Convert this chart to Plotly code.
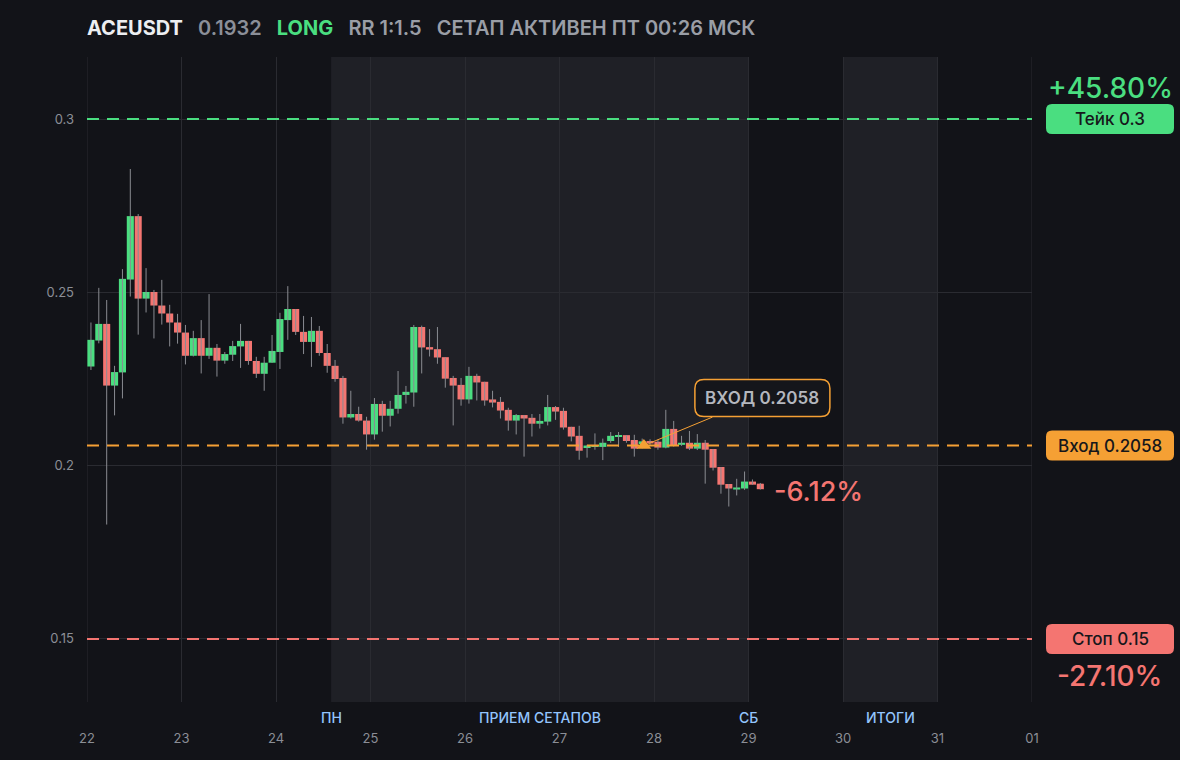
import plotly.graph_objects as go
import pandas as pd

# ---------------- data ----------------
symbol = "ACEUSDT"
last_price_text = "0.1932"
side = "LONG"
rr_text = "RR 1:1.5"
status_text = "СЕТАП АКТИВЕН ПТ 00:26 МСК"

start_time = "2025-03-22 01:00"
candle_hours = 2

opens = [0.2286, 0.2361, 0.2409, 0.2231, 0.2269, 0.2537, 0.2720, 0.2482, 0.2501, 0.2462,
         0.2439, 0.2413, 0.2384, 0.2317, 0.2368, 0.2317, 0.2340, 0.2303, 0.2320, 0.2344,
         0.2360, 0.2302, 0.2265, 0.2297, 0.2328, 0.2420, 0.2452, 0.2386, 0.2357, 0.2389,
         0.2325, 0.2288, 0.2253, 0.2139, 0.2149, 0.2130, 0.2090, 0.2178, 0.2144, 0.2164,
         0.2204, 0.2211, 0.2400, 0.2342, 0.2336, 0.2313, 0.2253, 0.2233, 0.2191, 0.2259,
         0.2242, 0.2191, 0.2184, 0.2161, 0.2130, 0.2146, 0.2138, 0.2121, 0.2127, 0.2169,
         0.2158, 0.2112, 0.2086, 0.2053, 0.2054, 0.2054, 0.2071, 0.2083, 0.2088, 0.2074,
         0.2062, 0.2071, 0.2069, 0.2052, 0.2106, 0.2060, 0.2066, 0.2049, 0.2066, 0.2048,
         0.1996, 0.1947, 0.1931, 0.1934, 0.1954, 0.1948]
highs = [0.2413, 0.2513, 0.2478, 0.2288, 0.2567, 0.2856, 0.2726, 0.2570, 0.2507, 0.2536,
         0.2464, 0.2438, 0.2406, 0.2389, 0.2420, 0.2495, 0.2351, 0.2328, 0.2360, 0.2409,
         0.2360, 0.2314, 0.2314, 0.2377, 0.2441, 0.2518, 0.2452, 0.2432, 0.2429, 0.2403,
         0.2351, 0.2305, 0.2259, 0.2216, 0.2170, 0.2141, 0.2195, 0.2187, 0.2187, 0.2273,
         0.2230, 0.2406, 0.2404, 0.2394, 0.2400, 0.2313, 0.2259, 0.2253, 0.2285, 0.2265,
         0.2242, 0.2216, 0.2198, 0.2167, 0.2149, 0.2146, 0.2149, 0.2149, 0.2204, 0.2172,
         0.2167, 0.2112, 0.2115, 0.2060, 0.2093, 0.2078, 0.2097, 0.2097, 0.2088, 0.2089,
         0.2078, 0.2076, 0.2075, 0.2161, 0.2129, 0.2086, 0.2100, 0.2091, 0.2074, 0.2048,
         0.1996, 0.1947, 0.1962, 0.1983, 0.1960, 0.1950]
lows = [0.2276, 0.2353, 0.1830, 0.2145, 0.2194, 0.2488, 0.2378, 0.2442, 0.2367, 0.2407,
        0.2344, 0.2352, 0.2292, 0.2315, 0.2266, 0.2308, 0.2257, 0.2294, 0.2302, 0.2282,
        0.2291, 0.2253, 0.2216, 0.2297, 0.2279, 0.2363, 0.2377, 0.2322, 0.2285, 0.2317,
        0.2268, 0.2242, 0.2121, 0.2136, 0.2127, 0.2046, 0.2075, 0.2098, 0.2113, 0.2150,
        0.2179, 0.2170, 0.2266, 0.2315, 0.2294, 0.2225, 0.2116, 0.2173, 0.2179, 0.2188,
        0.2173, 0.2168, 0.2136, 0.2101, 0.2090, 0.2026, 0.2084, 0.2107, 0.2116, 0.2132,
        0.2104, 0.2070, 0.2017, 0.2023, 0.2046, 0.2016, 0.2066, 0.2054, 0.2066, 0.2026,
        0.2050, 0.2060, 0.2046, 0.2050, 0.2055, 0.2057, 0.2045, 0.2045, 0.1948, 0.1986,
        0.1919, 0.1882, 0.1914, 0.1930, 0.1945, 0.1931]
closes = [0.2363, 0.2409, 0.2231, 0.2270, 0.2539, 0.2720, 0.2482, 0.2501, 0.2462, 0.2439,
          0.2413, 0.2384, 0.2317, 0.2368, 0.2317, 0.2340, 0.2303, 0.2322, 0.2345, 0.2360,
          0.2302, 0.2265, 0.2297, 0.2331, 0.2423, 0.2452, 0.2386, 0.2357, 0.2389, 0.2325,
          0.2288, 0.2250, 0.2139, 0.2149, 0.2130, 0.2090, 0.2178, 0.2144, 0.2164, 0.2204,
          0.2213, 0.2400, 0.2341, 0.2335, 0.2312, 0.2251, 0.2231, 0.2191, 0.2259, 0.2240,
          0.2188, 0.2182, 0.2159, 0.2130, 0.2146, 0.2136, 0.2121, 0.2129, 0.2169, 0.2156,
          0.2110, 0.2084, 0.2043, 0.2058, 0.2058, 0.2066, 0.2086, 0.2088, 0.2071, 0.2049,
          0.2070, 0.2064, 0.2052, 0.2106, 0.2058, 0.2066, 0.2049, 0.2066, 0.2046, 0.1994,
          0.1945, 0.1934, 0.1937, 0.1954, 0.1945, 0.1932]

take_price = 0.3
entry_price = 0.2058
stop_price = 0.15
entry_time = "2025-03-27 21:26"
take_label = "Тейк 0.3"
entry_label = "Вход 0.2058"
stop_label = "Стоп 0.15"
take_pct = "+45.80%"
stop_pct = "-27.10%"
current_pct = "-6.12%"
entry_callout = "ВХОД 0.2058"

phases = [("2025-03-24 14:00", "2025-03-29 00:00"), ("2025-03-30 00:00", "2025-03-31 00:00")]
phase_labels = [("2025-03-24 14:00", "ПН"), ("2025-03-26 19:00", "ПРИЕМ СЕТАПОВ"),
                ("2025-03-29 00:00", "СБ"), ("2025-03-30 12:00", "ИТОГИ")]

# ---------------- style ----------------
W, H = 1180, 760
L, R, T, B = 87, 148, 57, 58
PW, PH = W - L - R, H - T - B
XMIN, XMAX = pd.Timestamp("2025-03-22 00:00"), pd.Timestamp("2025-04-01 00:00")
YMIN, YMAX = 0.13179, 0.31792

BG = "#121318"
PHASE_BG = "#1f2026"
GRID = "#2a2b31"
GREEN = "#4ADE80"
RED = "#F47571"
ORANGE = "#F5A034"
WICK = "#8a8c92"
TICK = "#8b8e96"
BLUE = "#93C5FD"
FONT = "Inter"

times = pd.date_range(start_time, periods=len(opens), freq=f"{candle_hours}h")


def t2px(t):
    t = pd.Timestamp(t)
    return L + (t - XMIN) / (XMAX - XMIN) * PW


def v2py(v):
    return T + (YMAX - v) / (YMAX - YMIN) * PH


def px2paper_x(px):
    return (px - L) / PW


def py2paper_y(py):
    return (T + PH - py) / PH


def rounded_rect(x0, y0, x1, y1, r):
    """x/y in pixels (y down) -> path in paper coordinates"""
    X = px2paper_x
    Y = py2paper_y
    return (f"M {X(x0 + r)},{Y(y0)} L {X(x1 - r)},{Y(y0)} Q {X(x1)},{Y(y0)} {X(x1)},{Y(y0 + r)} "
            f"L {X(x1)},{Y(y1 - r)} Q {X(x1)},{Y(y1)} {X(x1 - r)},{Y(y1)} "
            f"L {X(x0 + r)},{Y(y1)} Q {X(x0)},{Y(y1)} {X(x0)},{Y(y1 - r)} "
            f"L {X(x0)},{Y(y0 + r)} Q {X(x0)},{Y(y0)} {X(x0 + r)},{Y(y0)} Z")


fig = go.Figure()

# wicks
wx, wy = [], []
for t, hi, lo in zip(times, highs, lows):
    wx += [t, t, None]
    wy += [lo, hi, None]
fig.add_trace(go.Scatter(x=wx, y=wy, mode="lines", line=dict(color=WICK, width=1),
                         hoverinfo="skip", showlegend=False))

# bodies
bases = [min(o, c) for o, c in zip(opens, closes)]
heights = [max(abs(c - o), 0.0004) for o, c in zip(opens, closes)]
colors = [GREEN if c >= o else RED for o, c in zip(opens, closes)]
fig.add_trace(go.Bar(x=times, y=heights, base=bases, marker=dict(color=colors, line=dict(width=0)),
                     width=1.8 * 3600 * 1000, showlegend=False, hoverinfo="skip"))

# entry marker
fig.add_trace(go.Scatter(x=[entry_time], y=[entry_price], mode="markers",
                         marker=dict(symbol="triangle-up", size=13, color=ORANGE),
                         showlegend=False, hoverinfo="skip"))

# phases
for a, b in phases:
    fig.add_vrect(x0=a, x1=b, fillcolor=PHASE_BG, line_width=0, layer="below")

# edge grid lines (range ends)
for xe in [XMIN, XMAX]:
    fig.add_shape(type="line", xref="x", x0=xe, x1=xe, yref="paper", y0=0, y1=1,
                  line=dict(color=GRID, width=1), layer="below")

# level lines
for lvl, col in [(take_price, GREEN), (entry_price, ORANGE), (stop_price, RED)]:
    fig.add_shape(type="line", xref="paper", x0=0, x1=1, yref="y", y0=lvl, y1=lvl,
                  line=dict(color=col, width=2, dash="12px,8px"), layer="above")

# right side labels
for lvl, col, txt in [(take_price, GREEN, take_label), (entry_price, ORANGE, entry_label),
                      (stop_price, RED, stop_label)]:
    cy = v2py(lvl)
    fig.add_shape(type="path", xref="paper", yref="paper",
                  path=rounded_rect(1046, cy - 15, 1174, cy + 15, 6),
                  fillcolor=col, line=dict(width=0))
    fig.add_annotation(xref="paper", yref="y", x=px2paper_x(1110), y=lvl, text=txt,
                       showarrow=False, font=dict(family=FONT, size=17, color="#16171b", weight=500),
                       xanchor="center", yanchor="middle")

fig.add_annotation(xref="paper", yref="y", x=px2paper_x(1110), y=take_price, yshift=31,
                   text=take_pct, showarrow=False, xanchor="center", yanchor="middle",
                   font=dict(family=FONT, size=28, color=GREEN, weight=500))
fig.add_annotation(xref="paper", yref="y", x=px2paper_x(1109), y=stop_price, yshift=-37,
                   text=stop_pct, showarrow=False, xanchor="center", yanchor="middle",
                   font=dict(family=FONT, size=28, color=RED, weight=500))

# current pct label
fig.add_annotation(x=times[-1], y=closes[-1], text=current_pct, showarrow=False,
                   xanchor="left", yanchor="middle", xshift=12, yshift=-2,
                   font=dict(family=FONT, size=27, color=RED, weight=500))

# entry callout
ex, ey = t2px(entry_time), v2py(entry_price)
bx0, by0, bx1, by1 = ex + 51, ey - 66, ex + 186, ey - 29
fig.add_shape(type="path", xref="paper", yref="paper",
              path=rounded_rect(bx0, by0, bx1, by1, 9),
              fillcolor="#15161b", line=dict(color=ORANGE, width=1.5))
fig.add_annotation(xref="paper", yref="paper", x=px2paper_x((bx0 + bx1) / 2),
                   y=py2paper_y((by0 + by1) / 2), text=entry_callout, showarrow=False,
                   xanchor="center", yanchor="middle",
                   font=dict(family=FONT, size=17, color="#b4b7be", weight=600))
fig.add_annotation(x=entry_time, y=entry_price, text="", showarrow=True, arrowhead=0,
                   arrowwidth=1, arrowcolor=ORANGE, ax=70, ay=-29, standoff=5)

# phase labels
for t, txt in phase_labels:
    fig.add_annotation(x=t, xref="x", yref="paper", y=0, yshift=-15, text=txt, showarrow=False,
                       xanchor="center", yanchor="middle",
                       font=dict(family=FONT, size=14, color=BLUE, weight=500))

title = (f"<b>{symbol}</b>&nbsp;&nbsp;&nbsp;<span style='color:#8b8f98'>{last_price_text}</span>"
         f"&nbsp;&nbsp;&nbsp;<span style='color:{GREEN}'><b>{side}</b></span>"
         f"&nbsp;&nbsp;&nbsp;<span style='color:#9a9ea6'>{rr_text}&nbsp;&nbsp;&nbsp;{status_text}</span>")

fig.update_layout(
    width=W, height=H,
    margin=dict(l=L, r=R, t=T, b=B),
    paper_bgcolor=BG, plot_bgcolor=BG,
    barmode="overlay",
    font=dict(family=FONT, color=TICK),
    title=dict(text=title, x=L / W, xanchor="left", y=1 - 28 / H, yanchor="middle",
               xref="container", yref="container",
               font=dict(family=FONT, size=20, color="#eceef1", weight=600)),
    xaxis=dict(type="date", range=[XMIN, XMAX], dtick=86400000, tick0="2025-03-22",
               tickformat="%d", showgrid=True, gridcolor=GRID, gridwidth=1,
               zeroline=False, showline=False, ticks="",
               tickfont=dict(family=FONT, size=13, color=TICK), ticklabelstandoff=27,
               fixedrange=True),
    yaxis=dict(range=[YMIN, YMAX], tickvals=[0.15, 0.2, 0.25, 0.3],
               ticktext=["0.15", "0.2", "0.25", "0.3"], showgrid=True, gridcolor=GRID,
               zeroline=False, showline=False, ticks="",
               tickfont=dict(family=FONT, size=13, color=TICK), ticklabelstandoff=12,
               fixedrange=True),
    showlegend=False,
)

fig.write_html("out.html", config={"displayModeBar": False},
               post_script="document.body.style.margin='0px';"
                           "document.body.style.backgroundColor='#121318';")
